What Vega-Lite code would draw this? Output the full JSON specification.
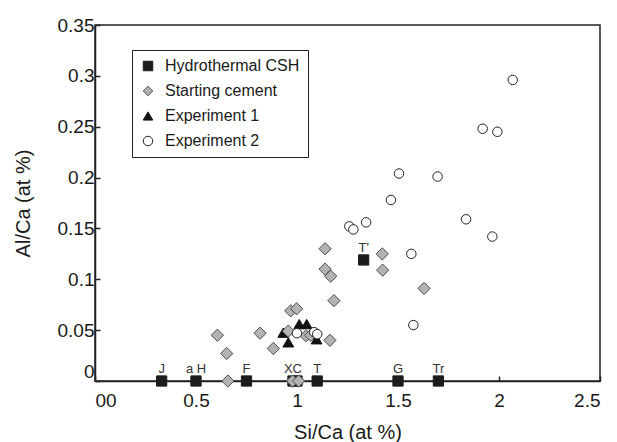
{
 "$schema": "https://vega.github.io/schema/vega-lite/v6.json",
 "width": 505, "height": 356,
 "autosize": "none",
 "padding": {"left": 95, "top": 25, "right": 17, "bottom": 61},
 "background": "white",
 "config": {
  "font": "Liberation Sans",
  "view": {"stroke": "#222", "strokeWidth": 1.5},
  "axis": {"grid": false, "domainColor": "#222", "domainWidth": 1.5, "tickColor": "#222", "tickWidth": 1.5, "tickSize": -5, "labelColor": "#1a1a1a", "titleColor": "#1a1a1a", "labelFontSize": 19, "titleFontSize": 20, "titleFontWeight": "normal", "format": "~g"},
  "legend": {"orient": "none", "legendX": 37, "legendY": 25, "strokeColor": "#222", "strokeWidth": 1, "fillColor": "white", "padding": 8, "labelFontSize": 16, "labelColor": "#1a1a1a", "rowPadding": 9, "labelOffset": 9, "symbolSize": 90, "symbolStrokeWidth": 1}
 },
 "data": {"values": [
  {"x": 0.33, "y": 0, "g": "Hydrothermal CSH", "lab": "J"},
  {"x": 0.5, "y": 0, "g": "Hydrothermal CSH", "lab": "a H"},
  {"x": 0.75, "y": 0, "g": "Hydrothermal CSH", "lab": "F"},
  {"x": 0.98, "y": 0, "g": "Hydrothermal CSH", "lab": "XC"},
  {"x": 1.0, "y": 0, "g": "Hydrothermal CSH", "lab": ""},
  {"x": 1.1, "y": 0, "g": "Hydrothermal CSH", "lab": "T"},
  {"x": 1.5, "y": 0, "g": "Hydrothermal CSH", "lab": "G"},
  {"x": 1.7, "y": 0, "g": "Hydrothermal CSH", "lab": "Tr"},
  {"x": 1.33, "y": 0.119, "g": "Hydrothermal CSH", "lab": "T'"},
  {"x": 0.932, "y": 0.0475, "g": "Experiment 1", "lab": ""},
  {"x": 0.957, "y": 0.038, "g": "Experiment 1", "lab": ""},
  {"x": 1.011, "y": 0.056, "g": "Experiment 1", "lab": ""},
  {"x": 1.048, "y": 0.056, "g": "Experiment 1", "lab": ""},
  {"x": 1.097, "y": 0.041, "g": "Experiment 1", "lab": ""},
  {"x": 0.606, "y": 0.045, "g": "Starting cement", "lab": ""},
  {"x": 0.652, "y": 0.027, "g": "Starting cement", "lab": ""},
  {"x": 0.817, "y": 0.047, "g": "Starting cement", "lab": ""},
  {"x": 0.883, "y": 0.032, "g": "Starting cement", "lab": ""},
  {"x": 0.969, "y": 0.069, "g": "Starting cement", "lab": ""},
  {"x": 0.998, "y": 0.071, "g": "Starting cement", "lab": ""},
  {"x": 0.957, "y": 0.049, "g": "Starting cement", "lab": ""},
  {"x": 1.045, "y": 0.0445, "g": "Starting cement", "lab": ""},
  {"x": 1.068, "y": 0.045, "g": "Starting cement", "lab": ""},
  {"x": 1.163, "y": 0.04, "g": "Starting cement", "lab": ""},
  {"x": 1.183, "y": 0.079, "g": "Starting cement", "lab": ""},
  {"x": 1.139, "y": 0.13, "g": "Starting cement", "lab": ""},
  {"x": 1.139, "y": 0.11, "g": "Starting cement", "lab": ""},
  {"x": 1.167, "y": 0.103, "g": "Starting cement", "lab": ""},
  {"x": 1.422, "y": 0.125, "g": "Starting cement", "lab": ""},
  {"x": 1.424, "y": 0.109, "g": "Starting cement", "lab": ""},
  {"x": 1.629, "y": 0.091, "g": "Starting cement", "lab": ""},
  {"x": 0.658, "y": 0, "g": "Starting cement", "lab": ""},
  {"x": 0.978, "y": 0, "g": "Starting cement", "lab": ""},
  {"x": 1.008, "y": 0, "g": "Starting cement", "lab": ""},
  {"x": 1.0, "y": 0.047, "g": "Experiment 2", "lab": ""},
  {"x": 1.085, "y": 0.048, "g": "Experiment 2", "lab": ""},
  {"x": 1.1, "y": 0.046, "g": "Experiment 2", "lab": ""},
  {"x": 1.259, "y": 0.152, "g": "Experiment 2", "lab": ""},
  {"x": 1.279, "y": 0.149, "g": "Experiment 2", "lab": ""},
  {"x": 1.342, "y": 0.156, "g": "Experiment 2", "lab": ""},
  {"x": 1.465, "y": 0.178, "g": "Experiment 2", "lab": ""},
  {"x": 1.505, "y": 0.204, "g": "Experiment 2", "lab": ""},
  {"x": 1.696, "y": 0.201, "g": "Experiment 2", "lab": ""},
  {"x": 1.566, "y": 0.125, "g": "Experiment 2", "lab": ""},
  {"x": 1.576, "y": 0.055, "g": "Experiment 2", "lab": ""},
  {"x": 1.837, "y": 0.159, "g": "Experiment 2", "lab": ""},
  {"x": 1.919, "y": 0.248, "g": "Experiment 2", "lab": ""},
  {"x": 1.992, "y": 0.245, "g": "Experiment 2", "lab": ""},
  {"x": 1.967, "y": 0.142, "g": "Experiment 2", "lab": ""},
  {"x": 2.068, "y": 0.296, "g": "Experiment 2", "lab": ""}
 ]},
 "layer": [
  {
   "mark": {"type": "point", "filled": true, "opacity": 1, "strokeWidth": 1},
   "encoding": {
    "x": {"field": "x", "type": "quantitative", "scale": {"domain": [0, 2.5], "nice": false, "zero": false}, "axis": {"title": "Si/Ca (at %)", "values": [0, 0.5, 1, 1.5, 2, 2.5], "labelExpr": "datum.value == 0 ? '00' : datum.label", "labelPadding": 15, "titlePadding": 12}},
    "y": {"field": "y", "type": "quantitative", "scale": {"domain": [0, 0.35], "nice": false}, "axis": {"title": "Al/Ca (at %)", "values": [0, 0.05, 0.1, 0.15, 0.2, 0.25, 0.3, 0.35], "labelPadding": 6, "titlePadding": 24, "labelBaseline": {"condition": {"test": "datum.value == 0", "value": "bottom"}, "value": "middle"}}},
    "shape": {"field": "g", "type": "nominal", "title": null, "scale": {"domain": ["Hydrothermal CSH", "Starting cement", "Experiment 1", "Experiment 2"], "range": ["square", "diamond", "triangle-up", "circle"]}},
    "fill": {"field": "g", "type": "nominal", "title": null, "scale": {"domain": ["Hydrothermal CSH", "Starting cement", "Experiment 1", "Experiment 2"], "range": ["#1c1c1c", "#b3b3b3", "#111111", "#ffffff"]}},
    "stroke": {"field": "g", "type": "nominal", "title": null, "scale": {"domain": ["Hydrothermal CSH", "Starting cement", "Experiment 1", "Experiment 2"], "range": ["#1c1c1c", "#4d4d4d", "#111111", "#222222"]}},
    "size": {"condition": [{"test": "datum.g == 'Experiment 2'", "value": 90}, {"test": "datum.g == 'Starting cement'", "value": 150}, {"test": "datum.g == 'Experiment 1'", "value": 115}], "value": 105}
   }
  },
  {
   "transform": [{"filter": "datum.lab != ''"}],
   "mark": {"type": "text", "dy": -8, "baseline": "alphabetic", "fontSize": 13, "color": "#333"},
   "encoding": {
    "x": {"field": "x", "type": "quantitative"},
    "y": {"field": "y", "type": "quantitative"},
    "text": {"field": "lab"}
   }
  }
 ]
}
